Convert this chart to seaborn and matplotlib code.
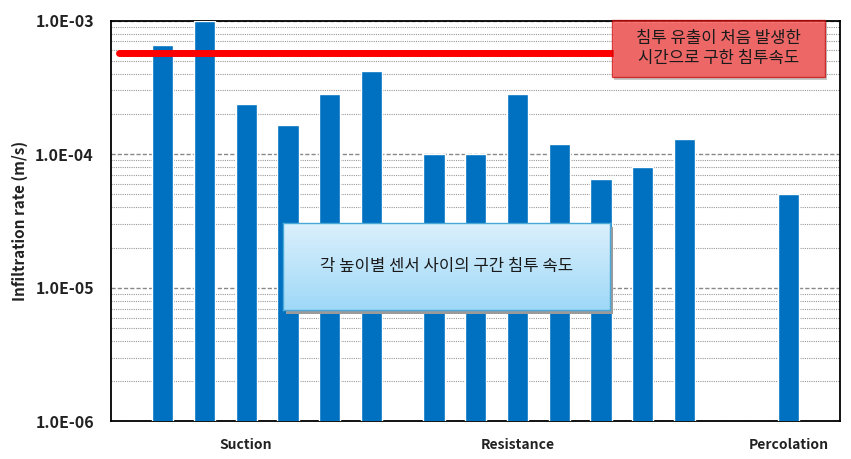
import numpy as np
import pandas as pd
import seaborn as sns
import matplotlib.pyplot as plt
import matplotlib.ticker as mticker
from matplotlib.patches import Rectangle

# ---- data ----
groups = ["Suction", "Resistance", "Percolation"]
suction_vals = [6.6e-4, 1.0e-3, 2.37e-4, 1.65e-4, 2.8e-4, 4.17e-4]
resistance_vals = [1.0e-4, 1.0e-4, 2.8e-4, 1.2e-4, 6.5e-5, 8.0e-5, 1.3e-4]
percolation_vals = [5.0e-5]
first_leak_rate = 5.7e-4
y_ticks = [1e-6, 1e-5, 1e-4, 1e-3]
y_tick_labels = ["1.0E-06", "1.0E-05", "1.0E-04", "1.0E-03"]
red_note = "침투 유출이 처음 발생한\n시간으로 구한 침투속도"
blue_note = "각 높이별 센서 사이의 구간 침투 속도"
ylabel = "Infiltration rate (m/s)"

# ---- layout (group gaps in bar-spacing units) ----
group_vals = [suction_vals, resistance_vals, percolation_vals]
gap_after = [1.5, 2.5]
pos, vals, label_pos = [], [], []
start = 0.0
for gi, gv in enumerate(group_vals):
    p = [start + i for i in range(len(gv))]
    pos += p
    vals += gv
    label_pos.append(p[min(2, len(p) - 1)])
    if gi < len(gap_after):
        start = p[-1] + gap_after[gi]

df = pd.DataFrame({"x": pos, "rate": vals})

sns.set_theme(style="white")
plt.rcParams["font.family"] = ["Noto Sans CJK KR", "DejaVu Sans"]

fig = plt.figure(figsize=(8.51, 4.59), dpi=100)
ax = fig.add_axes([0.130, 0.0817, 0.857, 0.8735])

sns.barplot(data=df, x="x", y="rate", native_scale=True, width=0.51,
            color="#0070C0", saturation=1, ax=ax, zorder=3)
ax.set_yscale("log")
ax.set_ylim(1e-6, 1e-3)
ax.set_xlim(pos[0] - 1.25, pos[-1] + 1.23)

ax.set_yticks(y_ticks)
ax.set_yticklabels(y_tick_labels, fontsize=11.5, fontweight="bold", color="#222222")
ax.yaxis.set_minor_locator(mticker.LogLocator(base=10, subs=np.arange(2, 10)))
ax.yaxis.set_minor_formatter(mticker.NullFormatter())
ax.grid(True, which="major", axis="y", color="#888888", linestyle=(0, (3, 1.5)), lw=1.0, zorder=0)
ax.grid(True, which="minor", axis="y", color="#999999", linestyle=(0, (1, 1)), lw=0.8, zorder=0)
ax.tick_params(axis="y", which="both", length=0, pad=12)

ax.set_xticks(label_pos)
ax.set_xticklabels(groups, fontsize=10, fontweight="bold", color="#222222")
ax.tick_params(axis="x", length=0, pad=12)
ax.set_xlabel("")
ax.set_ylabel(ylabel, fontsize=11, fontweight="bold", labelpad=5, color="#222222")

for s in ax.spines.values():
    s.set_color("black")
    s.set_linewidth(1.3)
    s.set_visible(True)

# red reference line
ax.axhline(first_leak_rate, xmin=0.012, xmax=0.97, color="#ff0000", lw=5,
           solid_capstyle="round", zorder=4)

# red note box
shadow = Rectangle((0.722, 0.826), 0.250, 0.124, transform=fig.transFigure,
                   facecolor="#c8c8c8", edgecolor="none", zorder=5)
fig.patches.append(shadow)
rbox = Rectangle((0.719, 0.832), 0.250, 0.124, transform=fig.transFigure,
                 facecolor="#ff3a3a", alpha=0.68, edgecolor="#c00000", lw=1.0, zorder=6)
fig.patches.append(rbox)
fig.text(0.719 + 0.125, 0.832 + 0.062, red_note, ha="center", va="center",
         fontsize=12, fontweight="medium", color="#1a1a1a", linespacing=1.25, zorder=7)

# blue note box with gradient
bx, by, bw, bh = 0.3326, 0.3246, 0.384, 0.1895
sh = Rectangle((bx + 0.004, by - 0.008), bw, bh, transform=fig.transFigure,
               facecolor="#9a9a9a", edgecolor="none", zorder=5)
fig.patches.append(sh)
bax = fig.add_axes([bx, by, bw, bh], zorder=6)
grad = np.linspace(0, 1, 100).reshape(-1, 1)
top_c = np.array([0.86, 0.94, 0.99])
bot_c = np.array([0.62, 0.85, 0.97])
img = top_c + (bot_c - top_c) * grad[:, :, None]
bax.imshow(img, aspect="auto", extent=[0, 1, 0, 1], origin="upper")
bax.set_xticks([]); bax.set_yticks([])
for s in bax.spines.values():
    s.set_color("#4aa8d8"); s.set_linewidth(1.0)
bax.text(0.5, 0.5, blue_note, ha="center", va="center", fontsize=12,
         fontweight="medium", color="#1a1a1a", transform=bax.transAxes)

fig.savefig("out.png", dpi=100)
